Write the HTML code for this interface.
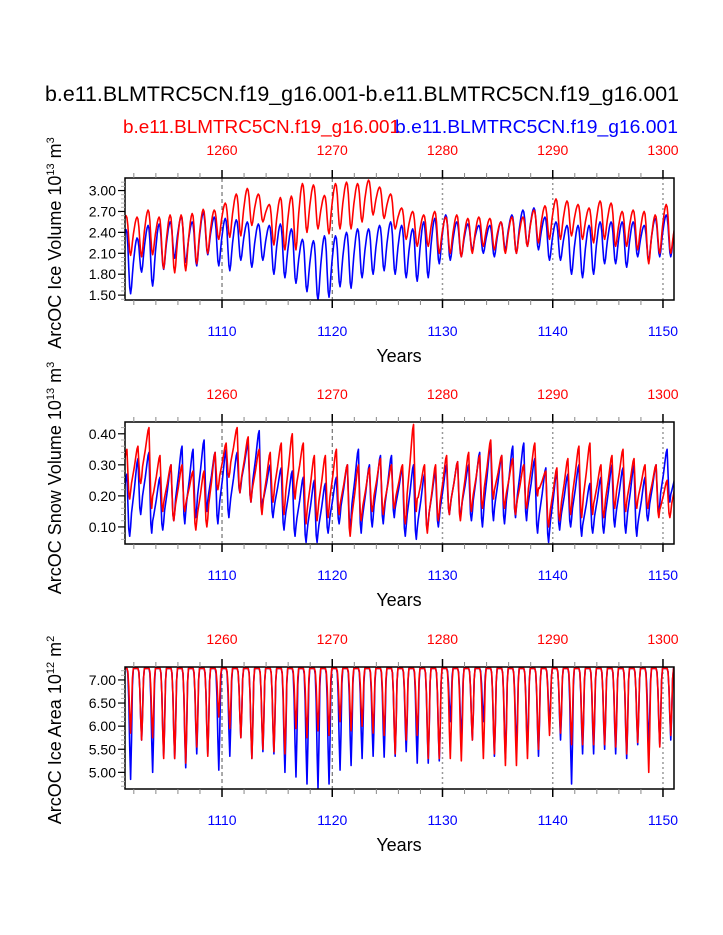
<!DOCTYPE html>
<html><head><meta charset="utf-8"><style>
html,body{margin:0;padding:0;background:#fff;}
svg{display:block;font-family:"Liberation Sans",Arial,sans-serif;}
</style></head><body>
<svg id="chart" width="723" height="935" viewBox="0 0 723 935">
<text x="362" y="101" font-size="21" text-anchor="middle" textLength="634" lengthAdjust="spacingAndGlyphs">b.e11.BLMTRC5CN.f19_g16.001-b.e11.BLMTRC5CN.f19_g16.001</text>
<text x="123" y="133" font-size="18.5" fill="#ff0000" textLength="277" lengthAdjust="spacingAndGlyphs">b.e11.BLMTRC5CN.f19_g16.001</text>
<text x="395" y="133" font-size="18.5" fill="#0000ff" textLength="283" lengthAdjust="spacingAndGlyphs">b.e11.BLMTRC5CN.f19_g16.001</text>
<g id="plots"></g>
</svg>
<script>
const years = [];
for (let y = 1101; y <= 1151; y++) years.push(y);
const volBlueMax = [2.44,2.32,2.5,2.52,2.55,2.62,2.55,2.68,2.62,2.6,2.58,2.55,2.52,2.5,2.52,2.45,2.3,2.28,2.35,2.35,2.4,2.45,2.45,2.5,2.55,2.5,2.45,2.55,2.6,2.65,2.55,2.52,2.5,2.5,2.55,2.65,2.72,2.75,2.62,2.55,2.5,2.5,2.5,2.55,2.55,2.55,2.55,2.5,2.6,2.65,2.6];
const volBlueMin = [1.52,1.83,1.63,1.87,2.03,1.97,1.92,2.08,1.92,1.85,2.0,1.9,2.0,1.8,1.75,1.67,1.55,1.43,1.47,1.62,1.6,1.75,1.8,1.85,1.8,1.75,1.7,1.75,1.95,2.0,2.05,2.15,2.1,2.05,2.15,2.1,2.2,2.15,2.0,2.0,1.8,1.75,1.8,1.95,1.95,1.9,2.05,2.0,2.05,2.05,2.1];
const volRedMax = [2.64,2.62,2.72,2.62,2.65,2.65,2.67,2.73,2.72,2.82,2.95,3.03,2.95,2.8,2.9,2.92,3.1,3.08,2.93,3.1,3.12,3.1,3.15,3.05,2.95,2.75,2.7,2.65,2.7,2.62,2.65,2.6,2.62,2.6,2.55,2.62,2.62,2.72,2.78,2.88,2.85,2.8,2.75,2.85,2.82,2.7,2.72,2.7,2.65,2.8,2.6];
const volRedMin = [2.07,2.05,2.08,1.88,1.82,1.85,1.95,2.1,2.3,2.33,2.35,2.5,2.55,2.22,2.15,2.15,2.4,2.45,2.38,2.45,2.45,2.55,2.65,2.6,2.45,2.3,2.2,2.2,2.1,2.1,2.05,2.1,2.2,2.15,2.1,2.1,2.2,2.25,2.3,2.3,2.35,2.3,2.25,2.3,2.2,2.2,2.15,1.95,2.1,2.1,2.2];
const snowBlueMax = [0.27,0.32,0.34,0.26,0.3,0.36,0.35,0.38,0.34,0.35,0.34,0.37,0.41,0.3,0.29,0.28,0.26,0.25,0.24,0.26,0.3,0.35,0.3,0.33,0.33,0.29,0.3,0.27,0.28,0.3,0.31,0.3,0.34,0.37,0.33,0.36,0.37,0.32,0.29,0.28,0.27,0.3,0.24,0.26,0.3,0.29,0.3,0.26,0.3,0.35,0.3];
const snowBlueMin = [0.07,0.14,0.08,0.09,0.12,0.11,0.13,0.15,0.11,0.13,0.21,0.18,0.15,0.13,0.09,0.07,0.05,0.05,0.08,0.11,0.1,0.08,0.1,0.11,0.13,0.07,0.06,0.09,0.1,0.14,0.13,0.12,0.1,0.12,0.11,0.13,0.12,0.08,0.05,0.09,0.1,0.07,0.08,0.08,0.1,0.08,0.07,0.12,0.15,0.18,0.2];
const snowRedMax = [0.35,0.36,0.42,0.33,0.3,0.3,0.28,0.28,0.34,0.37,0.42,0.39,0.35,0.34,0.37,0.4,0.37,0.33,0.33,0.35,0.3,0.3,0.29,0.32,0.3,0.3,0.43,0.3,0.3,0.33,0.31,0.34,0.33,0.38,0.33,0.32,0.3,0.37,0.28,0.29,0.32,0.36,0.37,0.3,0.33,0.35,0.32,0.3,0.3,0.25,0.28];
const snowRedMin = [0.19,0.24,0.16,0.15,0.12,0.15,0.09,0.1,0.22,0.26,0.21,0.18,0.14,0.18,0.14,0.19,0.11,0.12,0.13,0.14,0.07,0.12,0.15,0.14,0.16,0.11,0.15,0.08,0.12,0.14,0.12,0.15,0.16,0.19,0.16,0.14,0.16,0.2,0.1,0.12,0.14,0.13,0.14,0.13,0.16,0.15,0.16,0.16,0.13,0.13,0.15];
const areaBlueMax = new Array(51).fill(7.25);
const areaBlueMin = [4.85,5.7,5.0,5.35,5.3,5.1,5.4,5.4,5.05,5.35,5.75,5.3,5.45,5.4,5.0,4.9,4.75,4.65,4.75,5.05,5.15,5.3,5.35,5.33,5.35,5.45,5.2,5.2,5.25,6.1,5.7,5.7,6.1,5.35,5.3,5.5,5.5,5.35,6.0,5.7,4.75,5.4,5.4,5.5,5.4,5.3,5.6,5.6,5.6,5.7,5.8];
const areaRedMax = new Array(51).fill(7.25);
const areaRedMin = [5.85,5.7,5.75,5.3,5.3,5.2,5.55,5.35,6.2,5.95,5.75,5.3,5.5,5.45,5.4,5.95,5.75,5.9,5.8,6.1,5.9,6.0,5.85,5.8,5.4,5.7,5.8,5.3,5.3,5.3,5.25,5.7,5.3,5.4,5.15,5.15,5.3,5.5,5.8,5.85,5.6,5.6,5.6,5.6,5.55,5.4,5.65,5.0,5.55,5.8,5.8];
const volTicks = [1.5,1.8,2.1,2.4,2.7,3.0];
const snowTicks = [0.1,0.2,0.3,0.4];
const areaTicks = [5.0,5.5,6.0,6.5,7.0];
const bottomYearTicks = [1110,1120,1130,1140,1150];

const shapeVol = [0.7,0.85,0.95,1,0.95,0.75,0.4,0.1,0,0.12,0.35,0.55];
const shapeSnow = [0.6,0.72,0.84,0.95,1,0.55,0.12,0,0.15,0.3,0.4,0.5];
const shapeArea = [1,1,1,1,1,0.95,0.72,0.3,0,0.35,0.85,1];
const peakMonth = {vol:3, snow:4, area:0};

const NS = "http://www.w3.org/2000/svg";
const root = document.getElementById('plots');
const X0 = 125, X1 = 674, T0 = 1101.2, T1 = 1151;
function xs(t){ return X0 + (t - T0) / (T1 - T0) * (X1 - X0); }
function mk(tag, attrs, parent){ const e = document.createElementNS(NS, tag); for (const k in attrs) e.setAttribute(k, attrs[k]); (parent||root).appendChild(e); return e; }

function series(maxA, minA, shape, pk){
  const pts = [];
  for (let i = 0; i < years.length; i++){
    for (let m = 0; m < 12; m++){
      const f = shape[m];
      let lo, hi;
      if (m < pk){ lo = i > 0 ? minA[i-1] : minA[i]; hi = maxA[i]; }
      else if (m <= 8){ lo = minA[i]; hi = maxA[i]; }
      else { lo = minA[i]; hi = i + 1 < maxA.length ? maxA[i+1] : maxA[i]; }
      pts.push([years[i] + (m + 0.5) / 12, lo + f * (hi - lo)]);
    }
  }
  return pts;
}

const panels = [
  {name:'ice-volume', top:178, bot:300, vmin:1.43, vmax:3.18, ticks:volTicks, fmt:2, minorStep:0.06,
   title:['ArcOC Ice Volume 10','13',' m','3'], tcy:243,
   blue:[volBlueMax,volBlueMin], red:[volRedMax,volRedMin], shape:shapeVol, pk:peakMonth.vol},
  {name:'snow-volume', top:422, bot:544, vmin:0.045, vmax:0.438, ticks:snowTicks, fmt:2, minorStep:0.02,
   title:['ArcOC Snow Volume 10','13',' m','3'], tcy:478,
   blue:[snowBlueMax,snowBlueMin], red:[snowRedMax,snowRedMin], shape:shapeSnow, pk:peakMonth.snow},
  {name:'ice-area', top:667, bot:789, vmin:4.64, vmax:7.28, ticks:areaTicks, fmt:2, minorStep:0.1,
   title:['ArcOC Ice Area 10','12',' m','2'], tcy:730,
   blue:[areaBlueMax,areaBlueMin], red:[areaRedMax,areaRedMin], shape:shapeArea, pk:peakMonth.area}
];

panels.forEach(p => {
  const g = mk('g', {});
  
  
  const ys = v => p.bot - (v - p.vmin) / (p.vmax - p.vmin) * (p.bot - p.top);
  const clipId = 'clip-' + p.name;
  const cp = mk('clipPath', {id: clipId}, g);
  mk('rect', {x:X0, y:p.top, width:X1-X0, height:p.bot-p.top}, cp);
  bottomYearTicks.forEach((yr, k) => {
    const gl = mk('line', {x1:xs(yr), x2:xs(yr), y1:p.top, y2:p.bot, stroke: k<2?'#555':'#999', 'stroke-width': k<2?1:1.5, 'stroke-dasharray': k<2?'4,3':'2,3'}, g);
    
    
  });
  [['blue','#0000ff'],['red','#ff0000']].forEach(([nm, col]) => {
    const pts = series(p[nm][0], p[nm][1], p.shape, p.pk);
    const d = pts.map((q,i) => (i?'L':'M') + xs(q[0]).toFixed(2) + ',' + ys(q[1]).toFixed(2)).join('');
    const path = mk('path', {d:d, fill:'none', stroke:col, 'stroke-width':1.6, 'clip-path':'url(#'+clipId+')', 'stroke-linejoin':'round'}, g);
    
    
  });
  const fr = mk('rect', {x:X0, y:p.top, width:X1-X0, height:p.bot-p.top, fill:'none', stroke:'#000', 'stroke-width':1.5}, g);
  
  
  for (let yr = 1102; yr <= 1150; yr += 2){
    const major = yr % 10 === 0;
    const L = major ? 8 : 5;
    mk('line', {x1:xs(yr), x2:xs(yr), y1:p.bot, y2:p.bot+L, stroke: major?'#000':'#888', 'stroke-width':major?1.5:1}, g);
    mk('line', {x1:xs(yr), x2:xs(yr), y1:p.top, y2:p.top-L, stroke: major?'#000':'#888', 'stroke-width':major?1.5:1}, g);
  }
  bottomYearTicks.forEach(yr => {
    const b = mk('text', {x:xs(yr), y:p.bot+36, 'font-size':14, fill:'#0000ff', 'text-anchor':'middle'}, g);
    b.textContent = yr;
    
    
    const t = mk('text', {x:xs(yr), y:p.top-23, 'font-size':14, fill:'#ff0000', 'text-anchor':'middle'}, g);
    t.textContent = yr + 150;
    
    
  });
  for (let v = p.ticks[0] - 5*p.minorStep; v <= p.vmax; v += p.minorStep){
    if (v < p.vmin) continue;
    mk('line', {x1:X0-4, x2:X0, y1:ys(v), y2:ys(v), stroke:'#aaa', 'stroke-width':1}, g);
  }
  p.ticks.forEach(v => {
    mk('line', {x1:X0-7, x2:X0, y1:ys(v), y2:ys(v), stroke:'#000', 'stroke-width':1.2}, g);
    const t = mk('text', {x:X0-9, y:ys(v)+5, 'font-size':14, 'text-anchor':'end'}, g);
    t.textContent = v.toFixed(p.fmt);
    
    
  });
  const xt = mk('text', {x:399, y:p.bot+62, 'font-size':18, 'text-anchor':'middle'}, g);
  xt.textContent = 'Years';
  
  
  const yt = mk('text', {x:0, y:0, 'font-size':18, 'text-anchor':'middle', transform:'translate(61,'+p.tcy+') rotate(-90)'}, g);
  
  
  p.title.forEach((s, k) => {
    const ts = mk('tspan', (k%2) ? {'font-size':11, dy:-7} : (k ? {dy:7} : {}), yt);
    ts.textContent = s;
  });
});
</script>
</body></html>
